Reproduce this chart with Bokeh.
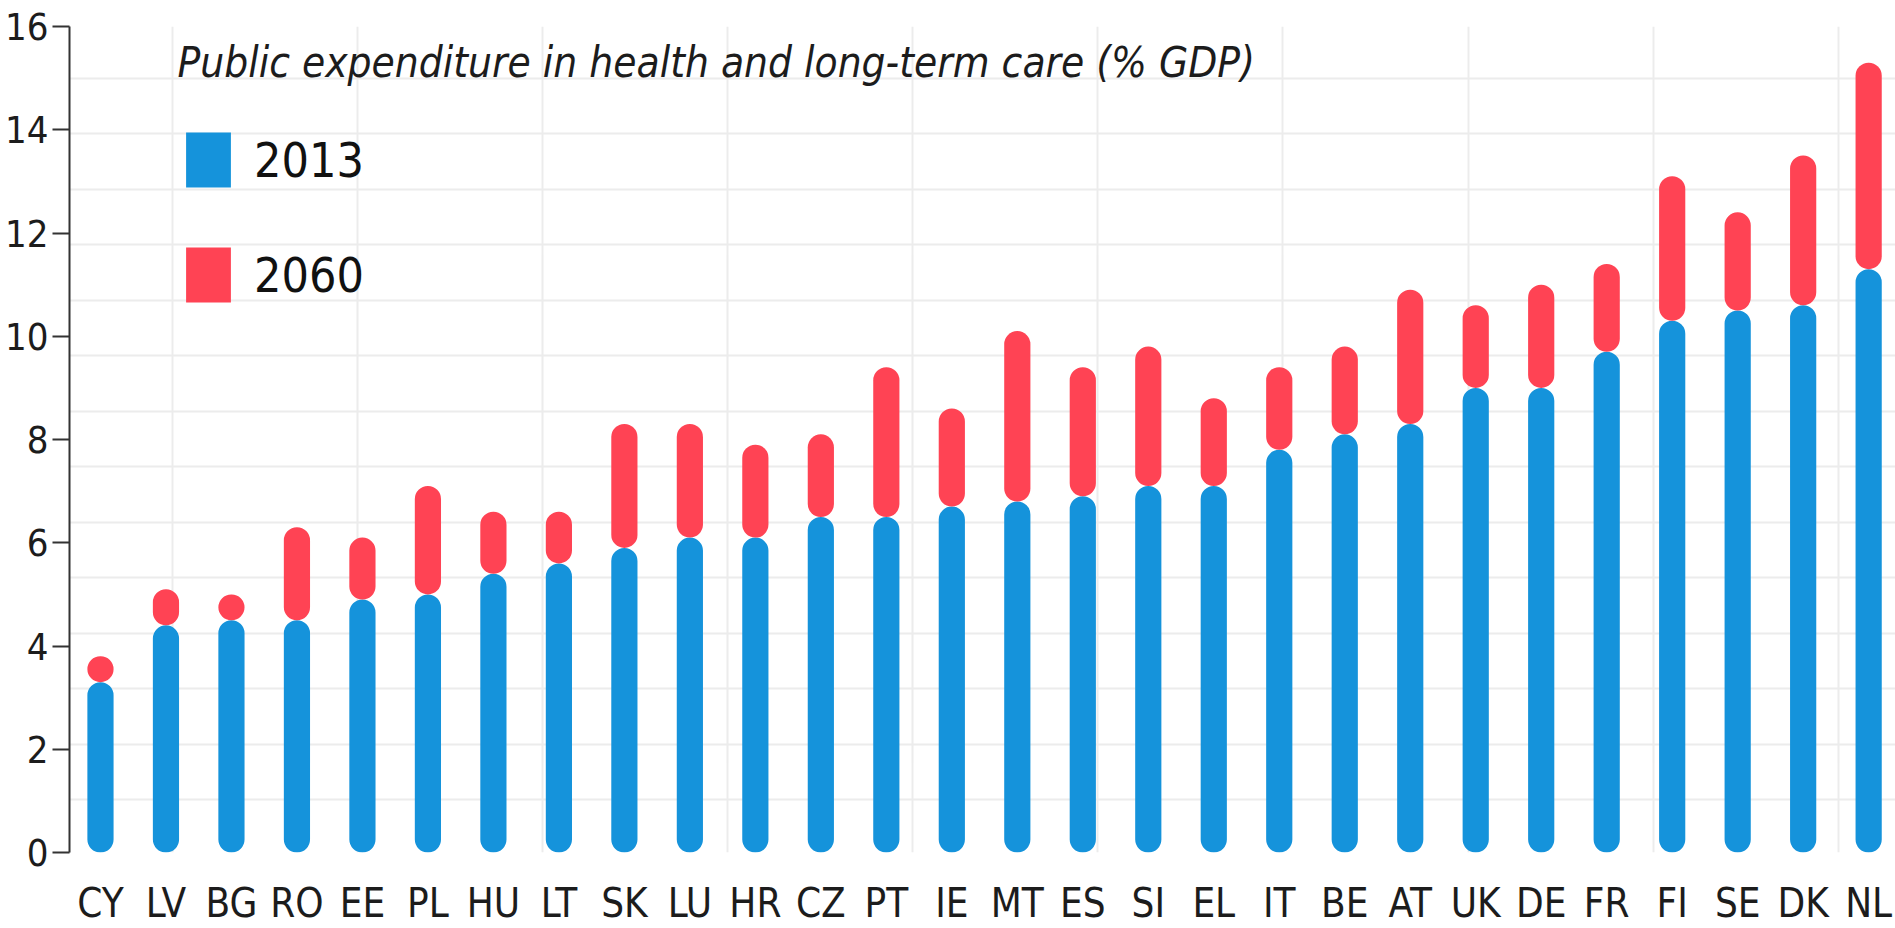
from bokeh.plotting import figure
from bokeh.models import Range1d, FixedTicker, Legend, LegendItem, Label, ColumnDataSource
from bokeh.embed import file_html
from bokeh.resources import INLINE

# ---------------- data ----------------
countries = ["CY", "LV", "BG", "RO", "EE", "PL", "HU", "LT", "SK", "LU", "HR", "CZ", "PT", "IE",
             "MT", "ES", "SI", "EL", "IT", "BE", "AT", "UK", "DE", "FR", "FI", "SE", "DK", "NL"]
exp_2013 = [3.3, 4.4, 4.5, 4.5, 4.9, 5.0, 5.4, 5.6, 5.9, 6.1, 6.1, 6.5, 6.5, 6.7,
            6.8, 6.9, 7.1, 7.1, 7.8, 8.1, 8.3, 9.0, 9.0, 9.7, 10.3, 10.5, 10.6, 11.3]
exp_2060 = [3.8, 5.1, 5.0, 6.3, 6.1, 7.1, 6.6, 6.6, 8.3, 8.3, 7.9, 8.1, 9.4, 8.6,
            10.1, 9.4, 9.8, 8.8, 9.4, 9.8, 10.9, 10.6, 11.0, 11.4, 13.1, 12.4, 13.5, 15.3]
y_ticks = [0, 2, 4, 6, 8, 10, 12, 14, 16]
series_labels = ["2013", "2060"]
title_text = "Public expenditure in health and long-term care (% GDP)"

# ---------------- style ----------------
BLUE = "#1593DB"
RED = "#FF4354"
TEXT = "#1c1c1c"
FONT = "DejaVu Sans Condensed, Liberation Sans Narrow, Lato"
GRID = "#ececec"

n = len(countries)
src = ColumnDataSource(dict(x=list(range(n)), country=countries, y13=exp_2013, y60=exp_2060))

p = figure(width=1895, height=928, output_backend="svg", toolbar_location=None,
           x_range=Range1d(-0.473, 27.41), y_range=Range1d(0, 16),
           min_border_left=69, min_border_right=0, min_border_top=26, min_border_bottom=75)
p.outline_line_color = None
p.background_fill_color = "white"
p.border_fill_color = "white"

r13 = p.vbar(x="x", bottom=0, top="y13", width=0.40, source=src,
             fill_color=BLUE, line_color=None, border_radius=13)
r60 = p.vbar(x="x", bottom="y13", top="y60", width=0.40, source=src,
             fill_color=RED, line_color=None, border_radius=13)

# background cell grid (decorative, independent of the tick marks)
p.ygrid.ticker = FixedTicker(ticks=[-0.05 + 1.075 * k for k in range(17)])
p.xgrid.ticker = FixedTicker(ticks=[1.095 + 2.827 * k for k in range(10)])
for g in (p.xgrid, p.ygrid):
    g.grid_line_color = GRID
    g.grid_line_width = 2

# y axis
ya = p.yaxis[0]
ya.ticker = FixedTicker(ticks=y_ticks)
ya.axis_line_color = "#333333"
ya.axis_line_width = 2
ya.major_tick_line_color = "#333333"
ya.major_tick_line_width = 2
ya.major_tick_in = 0
ya.major_tick_out = 17
ya.minor_tick_line_color = None
ya.major_label_standoff = 4
ya.major_label_text_font = FONT
ya.major_label_text_font_size = "38px"
ya.major_label_text_color = TEXT

# x axis
xa = p.xaxis[0]
xa.ticker = FixedTicker(ticks=list(range(n)))
xa.major_label_overrides = {i: c for i, c in enumerate(countries)}
xa.axis_line_color = None
xa.major_tick_line_color = None
xa.minor_tick_line_color = None
xa.major_tick_in = 0
xa.major_tick_out = 0
xa.major_label_standoff = 27
xa.major_label_text_font = FONT
xa.major_label_text_font_size = "40px"
xa.major_label_text_color = TEXT

# title inside the plot area
p.add_layout(Label(x=108, y=790, x_units="screen", y_units="screen", text=title_text,
                   text_font=FONT, text_font_style="italic", text_font_size="42px",
                   text_color=TEXT, text_baseline="alphabetic"))

legend = Legend(items=[LegendItem(label=series_labels[0], renderers=[r13]),
                       LegendItem(label=series_labels[1], renderers=[r60])],
                location=(111, 543), orientation="vertical",
                border_line_color=None, background_fill_alpha=0,
                padding=0, margin=0, spacing=46,
                glyph_width=56, glyph_height=69, label_standoff=18,
                label_text_font=FONT, label_text_font_size="48px", label_text_color="#111111")
p.add_layout(legend)

open("out.html", "w").write(file_html(p, INLINE))
